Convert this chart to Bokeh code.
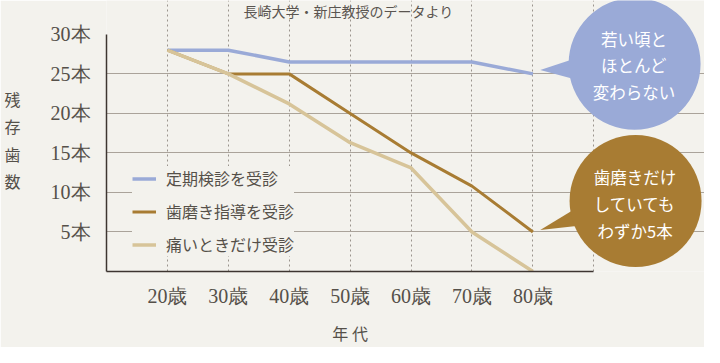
from bokeh.plotting import figure
from bokeh.models import Range1d, FixedTicker, Label, Legend, LegendItem, LinearAxis
from bokeh.core.properties import value
from bokeh.embed import file_html
from bokeh.resources import INLINE

# ---- data ----
ages = [20, 30, 40, 50, 60, 70, 80]
age_labels = ["20歳", "30歳", "40歳", "50歳", "60歳", "70歳", "80歳"]
regular = [28, 28, 26.5, 26.5, 26.5, 26.5, 25]      # 定期検診を受診
brushing = [28, 25, 25, 20, 15, 10.8, 5]            # 歯磨き指導を受診
pain_only = [28, 25, 21.2, 16.3, 13.1, 5, 0]        # 痛いときだけ受診
series_names = ["定期検診を受診", "歯磨き指導を受診", "痛いときだけ受診"]
y_ticks = [5, 10, 15, 20, 25, 30]
y_labels = ["5本", "10本", "15本", "20本", "25本", "30本"]
grid_x = [20, 30, 40, 50, 60, 70, 80, 90]
grid_y = [5, 10, 15, 20, 25]
title_text = "長崎大学・新庄教授のデータより"
ylabel_chars = ["残", "存", "歯", "数"]
xlabel_text = "年 代"
bubble1 = ["若い頃と", "ほとんど", "変わらない"]
bubble2 = ["歯磨きだけ", "していても", "わずか5本"]

BG = "#f3f2ed"
BLUE = "#9aaad7"
BROWN = "#a87c33"
TAN = "#d7c499"
TXT = "#555049"

W, H = 704, 347
SX, SY = W / 720, H / 363          # reference-to-canvas scale
LEFT = 106
FB = 272                            # frame bottom (canvas px)
BOTTOM = H - FB
PX_X = 6.23 * SX                    # px per x unit
PX_Y = 8.3 * SY                     # px per y unit

p = figure(width=W, height=H, output_backend="svg", toolbar_location=None,
           x_range=Range1d(10, 10 + (W - LEFT) / PX_X),
           y_range=Range1d(0, FB / PX_Y),
           min_border_left=LEFT, min_border_right=0, min_border_top=0,
           min_border_bottom=BOTTOM)
p.background_fill_color = BG
p.border_fill_color = BG
p.outline_line_color = None

# reference-pixel helpers for annotation placement
def rx(x):
    return 10 + (x * SX - LEFT) / PX_X

def ry(y):
    return (FB - y * SY) / PX_Y

# main axes
p.xaxis.bounds = (10, 90)
p.yaxis.bounds = (0, 30)
p.xaxis.ticker = FixedTicker(ticks=ages)
p.xaxis.major_label_overrides = {a: l for a, l in zip(ages, age_labels)}
p.yaxis.ticker = FixedTicker(ticks=y_ticks)
p.yaxis.major_label_overrides = {a: l for a, l in zip(y_ticks, y_labels)}
for ax in (p.xaxis, p.yaxis):
    ax.axis_line_color = "#3d3531"
    ax.axis_line_width = 1.5
    ax.major_tick_line_color = None
    ax.minor_tick_line_color = None
    ax.major_label_text_font = "Liberation Serif"
    ax.major_label_text_font_size = "20px"
    ax.major_label_text_color = TXT
p.xaxis.major_label_standoff = 7
p.yaxis.major_label_standoff = 10

# caption axes: stacked y caption (upright characters) and x caption under 50歳
ycap_pos = [ry(103), ry(132), ry(161), ry(190)]
ycap = LinearAxis(ticker=FixedTicker(ticks=ycap_pos),
                  major_label_overrides={v: c for v, c in zip(ycap_pos, ylabel_chars)},
                  axis_line_color=None, major_tick_line_color=None, minor_tick_line_color=None,
                  major_label_standoff=21, major_label_text_font="Noto Sans CJK JP",
                  major_label_text_font_size="16px", major_label_text_color=TXT)
p.add_layout(ycap, "left")
xcap = LinearAxis(ticker=FixedTicker(ticks=[50]),
                  major_label_overrides={50: xlabel_text},
                  axis_line_color=None, major_tick_line_color=None, minor_tick_line_color=None,
                  major_label_standoff=5, major_label_text_font="Noto Sans CJK JP",
                  major_label_text_font_size="16px", major_label_text_color=TXT)
p.add_layout(xcap, "below")

# grids
p.xgrid.ticker = FixedTicker(ticks=grid_x)
p.xgrid.bounds = (0, 30.3)
p.xgrid.grid_line_color = "#9a948d"
p.xgrid.grid_line_dash = "2 3"
p.xgrid.grid_line_width = 1
p.ygrid.ticker = FixedTicker(ticks=grid_y)
p.ygrid.bounds = (10, 90)
p.ygrid.grid_line_color = "#aaa39a"
p.ygrid.grid_line_width = 1

# lines
r1 = p.line(ages, regular, line_color=BLUE, line_width=3.5)
r2 = p.line(ages, brushing, line_color=BROWN, line_width=3)
r3 = p.line(ages, pain_only, line_color=TAN, line_width=3.5)

legend = Legend(items=[LegendItem(label=series_names[0], renderers=[r1]),
                       LegendItem(label=series_names[1], renderers=[r2]),
                       LegendItem(label=series_names[2], renderers=[r3])],
                location=(26, 15), background_fill_color=BG, background_fill_alpha=1,
                border_line_color=None, padding=7, margin=0, spacing=9,
                glyph_width=24, glyph_height=19, label_height=19, label_standoff=10,
                label_text_font="Noto Sans CJK JP", label_text_font_size="16px",
                label_text_color=TXT)
p.add_layout(legend, "center")

# speech bubbles (annotations pointing at the series end points)
p.patch([rx(552), rx(590), rx(592)], [ry(73), ry(60), ry(84)], fill_color=BLUE, line_color=None)
p.scatter([rx(648.5)], [ry(66.5)], marker="circle", size=132, fill_color=BLUE, line_color=None)
p.patch([rx(552), rx(592), rx(596)], [ry(241), ry(216), ry(236)], fill_color=BROWN, line_color=None)
p.scatter([rx(649.5)], [ry(210.5)], marker="circle", size=132, fill_color=BROWN, line_color=None)

p.text([rx(648)] * 3, [ry(40), ry(68), ry(96)], text=bubble1,
       text_font=value("Noto Sans CJK JP"), text_font_size="16.5px", text_color="white",
       text_align="center", text_baseline="middle")
p.text([rx(649)] * 3, [ry(185), ry(213.5), ry(242)], text=bubble2,
       text_font=value("Noto Sans CJK JP"), text_font_size="16.5px", text_color="white",
       text_align="center", text_baseline="middle")

# source note (inside the frame, top)
p.add_layout(Label(x=rx(356), y=ry(11), text=title_text, text_align="center",
                   text_baseline="middle", text_font="Noto Sans CJK JP",
                   text_font_size="14px", text_color="#5a5550"))

open("out.html", "w").write(file_html(p, INLINE))
